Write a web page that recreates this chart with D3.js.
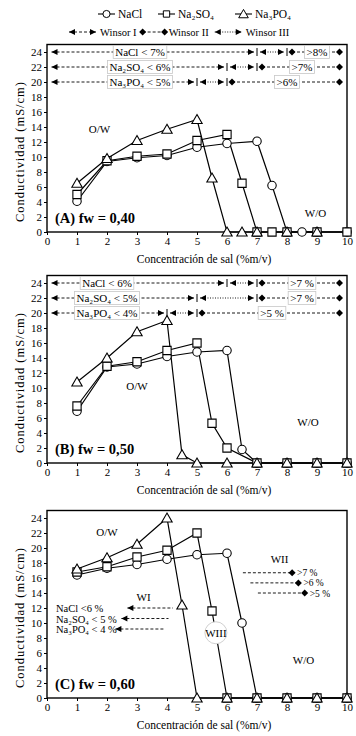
<!DOCTYPE html>
<html>
<head>
<meta charset="utf-8">
<script src="https://cdn.jsdelivr.net/npm/d3@7"></script>
<style>
  body { margin: 0; background: #fff; }
  svg { display: block; font-family: "Liberation Serif", "DejaVu Serif", serif; }
</style>
</head>
<body>
<svg id="chart" width="356" height="736"></svg>
<script>
// ---- data ----
const xTicks = [0, 1, 2, 3, 4, 5, 6, 7, 8, 9, 10];
const yTicks = [0, 2, 4, 6, 8, 10, 12, 14, 16, 18, 20, 22, 24];
const salts = ["NaCl", "Na₂SO₄", "Na₃PO₄"];

const a_NaCl   = [[1,4.1],[2,9.4],[3,9.9],[4,10.2],[5,11.3],[6,11.8],[7,12.1],[7.5,6.2],[8,0],[8.5,0],[9,0],[10,0]];
const a_Na2SO4 = [[1,5.0],[2,9.5],[3,10.1],[4,10.4],[5,12.2],[6,13.0],[6.5,6.5],[7,0],[7.5,0],[8,0],[9,0],[10,0]];
const a_Na3PO4 = [[1,6.5],[2,9.8],[3,12.2],[4,13.7],[5,15.0],[5.5,7.2],[6,0],[6.5,0],[7,0],[8,0],[9,0]];

const b_NaCl   = [[1,6.9],[2,12.8],[3,13.2],[4,14.2],[5,14.8],[6,15.0],[6.5,1.8],[7,0],[8,0],[9,0],[10,0]];
const b_Na2SO4 = [[1,7.6],[2,12.9],[3,13.5],[4,15.0],[5,16.0],[5.5,5.3],[6,2.0],[7,0],[8,0],[9,0],[10,0]];
const b_Na3PO4 = [[1,10.8],[2,14.0],[3,17.5],[4,19.0],[4.5,1.1],[5,0],[6,0],[7,0],[8,0],[9,0],[10,0]];

const c_NaCl   = [[1,16.4],[2,17.3],[3,17.8],[4,18.5],[5,19.1],[6,19.3],[6.5,10.0],[7,0],[8,0],[9,0],[10,0]];
const c_Na2SO4 = [[1,16.8],[2,17.5],[3,18.8],[4,19.7],[5,22.0],[5.5,11.6],[6,0],[7,0],[8,0],[9,0],[10,0]];
const c_Na3PO4 = [[1,17.2],[2,18.7],[3,20.5],[4,24.0],[4.5,12.4],[5,0],[6,0],[7,0],[8,0],[9,0],[10,0]];

// Winsor phase limits (% salt): [label, WI/WIII limit, WIII/WII limit, WII label]
const a_phases = [["NaCl < 7%", 7, 8, ">8%"], ["Na₂SO₄ < 6%", 6, 7, ">7%"], ["Na₃PO₄ < 5%", 5, 6, ">6%"]];
const b_phases = [["NaCl   < 6%", 6, 7, ">7 %"], ["Na₂SO₄ < 5%", 5, 7, ">7 %"], ["Na₃PO₄ < 4%", 4, 5, ">5 %"]];
const c_wi  = [["NaCl   <6 %", 6], ["Na₂SO₄ < 5 %", 5], ["Na₃PO₄ < 4 %", 4]];
const c_wii = [">7 %", ">6 %", ">5 %"];
const winsorNames = ["Winsor I", "Winsor II", "Winsor III"];

// ---- layout ----
const svg = d3.select("#chart");
const left = 47, right = 347;
const panels = [
    {title: "(A) fw = 0,40", y0: 232, series: [a_NaCl, a_Na2SO4, a_Na3PO4], phases: a_phases, labelX: 3.1, ow: [1.75, 13.2], wo: [8.95, 2.0]},
    {title: "(B) fw = 0,50", y0: 463, series: [b_NaCl, b_Na2SO4, b_Na3PO4], phases: b_phases, labelX: 2.0, ow: [3.0, 9.7], wo: [8.7, 5.0]},
    {title: "(C) fw = 0,60", y0: 698, series: [c_NaCl, c_Na2SO4, c_Na3PO4], phases: null, ow: [2.0, 21.6], wo: [8.55, 4.6]}
];
const symbols = [d3.symbol(d3.symbolCircle, 56), d3.symbol(d3.symbolSquare, 68), d3.symbol(d3.symbolTriangle, 46)];

function arrowHead(g, x, y, dir) {
    // dir = -1 points left, 1 points right
    g.append("path")
        .attr("d", `M${x},${y} L${x - dir * 6},${y - 3} L${x - dir * 6},${y + 3} Z`)
        .attr("fill", "#000");
}
function diamond(g, x, y) {
    g.append("path")
        .attr("d", `M${x},${y - 3.5} L${x + 3.5},${y} L${x},${y + 3.5} L${x - 3.5},${y} Z`)
        .attr("fill", "#000");
}
function hline(g, x1, x2, y, dash) {
    return g.append("line").attr("x1", x1).attr("x2", x2).attr("y1", y).attr("y2", y)
        .attr("stroke", "#000").attr("stroke-width", 0.9).attr("stroke-dasharray", dash);
}
function boxedText(g, x, y, txt) {
    const t = g.append("text").attr("x", x).attr("y", y + 4)
        .attr("text-anchor", "middle").attr("font-size", 11).text(txt);
    const bb = t.node().getBBox();
    g.insert("rect", () => t.node())
        .attr("x", bb.x - 2).attr("y", bb.y - 0.5)
        .attr("width", bb.width + 4).attr("height", bb.height + 1)
        .attr("fill", "#fff").attr("stroke", "#c8c8c8").attr("stroke-width", 0.8);
}

panels.forEach(p => {
    const x = d3.scaleLinear().domain([0, 10]).range([left, right]);
    const y = d3.scaleLinear().domain([0, 25]).range([p.y0, p.y0 - 25 * 7.5]);
    const g = svg.append("g");

    // frame
    g.append("rect")
        .attr("x", left).attr("y", y(25))
        .attr("width", right - left).attr("height", p.y0 - y(25))
        .attr("fill", "none").attr("stroke", "#000").attr("stroke-width", 1.4);

    // axes
    g.append("g").attr("transform", `translate(${left},0)`)
        .call(d3.axisLeft(y).tickValues(yTicks).tickSize(3).tickPadding(2))
        .call(a => a.select(".domain").remove())
        .call(a => a.selectAll("text").attr("font-size", 11).attr("font-family", "Liberation Serif"));
    g.append("g").attr("transform", `translate(0,${p.y0})`)
        .call(d3.axisBottom(x).tickValues(xTicks).tickSize(3).tickPadding(2))
        .call(a => a.select(".domain").remove())
        .call(a => a.selectAll("text").attr("font-size", 11).attr("font-family", "Liberation Serif"));

    g.append("text")
        .attr("x", 204).attr("y", p.y0 + 31)
        .attr("text-anchor", "middle").attr("font-size", 11.5)
        .text("Concentración de sal (%m/v)");
    g.append("text")
        .attr("transform", `translate(24,${p.y0 - 80}) rotate(-90)`)
        .attr("text-anchor", "middle").attr("font-size", 12.5)
        .attr("textLength", 140)
        .text("Conductividad (mS/cm)");

    // series
    const line = d3.line().x(d => x(d[0])).y(d => y(d[1]));
    p.series.forEach(s => {
        g.append("path").datum(s)
            .attr("d", line).attr("fill", "none")
            .attr("stroke", "#000").attr("stroke-width", 1.2);
    });
    p.series.forEach((s, i) => {
        g.selectAll(null).data(s).join("path")
            .attr("transform", d => `translate(${x(d[0])},${y(d[1]) + (i === 2 ? 1 : 0)})`)
            .attr("d", symbols[i])
            .attr("fill", "#fff").attr("stroke", "#000").attr("stroke-width", 1.1);
    });

    // region labels
    g.append("text").attr("x", x(p.ow[0])).attr("y", y(p.ow[1]))
        .attr("text-anchor", "middle").attr("font-size", 11).text("O/W");
    g.append("text").attr("x", x(p.wo[0])).attr("y", y(p.wo[1]))
        .attr("text-anchor", "middle").attr("font-size", 11).text("W/O");
    g.append("text").attr("x", left + 8).attr("y", p.y0 - 9)
        .attr("font-size", 14.5).attr("font-weight", "bold").text(p.title);

    // Winsor phase rows
    if (p.phases) {
        p.phases.forEach((ph, i) => {
            const yy = y(24 - 2 * i);
            const [lab, b1, b2, over] = ph;
            const ax = x(0.15), bx = x(b1), cx = x(b2), ex = x(9.75);
            // Winsor I
            hline(g, ax, bx - 3, yy, "3,2");
            arrowHead(g, ax, yy, -1);
            arrowHead(g, bx - 3, yy, 1);
            // Winsor III
            hline(g, bx + 3, cx - 3, yy, "1,1.5");
            arrowHead(g, bx + 3, yy, -1);
            arrowHead(g, cx - 3, yy, 1);
            [bx, cx].forEach(bxv => g.append("line")
                .attr("x1", bxv).attr("x2", bxv).attr("y1", yy - 4).attr("y2", yy + 4)
                .attr("stroke", "#000").attr("stroke-width", 1));
            // Winsor II
            hline(g, cx + 5, ex, yy, "3,2");
            diamond(g, cx + 5, yy);
            diamond(g, ex, yy);
            boxedText(g, x(p.labelX), yy, lab);
            boxedText(g, x((b2 + 10) / 2), yy, over);
        });
    } else {
        // panel C annotations
        g.append("text").attr("x", x(7.75)).attr("y", y(18.0)).attr("text-anchor", "middle")
            .attr("font-size", 11).text("WII");
        c_wii.forEach((t, i) => {
            const yy = y(16.7 - 1.35 * i);
            const x1 = x(6.53 + 0.25 * i), x2 = x(8.17 + 0.21 * i);
            hline(g, x1, x2, yy, "3,2");
            diamond(g, x2, yy);
            g.append("text").attr("x", x2 + 5).attr("y", yy + 3.5).attr("font-size", 9.5).text(t);
        });
        g.append("text").attr("x", x(3.22)).attr("y", y(13.0)).attr("text-anchor", "middle")
            .attr("font-size", 11).text("WI");
        c_wi.forEach((d, i) => {
            const yy = y(12.0 - 1.4 * i);
            const x1 = x(2.68 - 0.2 * i), x2 = x(4.2 - 0.15 * i);
            g.append("text").attr("x", left + 9).attr("y", yy + 4).attr("font-size", 10.5).text(d[0]);
            hline(g, x1, x2, yy, "3,2");
            arrowHead(g, x1, yy, -1);
        });
        g.append("circle").attr("cx", x(5.63)).attr("cy", y(8.7)).attr("r", 11)
            .attr("fill", "#fff").attr("stroke", "#d0d0d0").attr("stroke-width", 1);
        g.append("text").attr("x", x(5.63)).attr("y", y(8.7) + 4).attr("text-anchor", "middle")
            .attr("font-size", 11).text("WIII");
    }
});

// ---- legend ----
const leg1 = svg.append("g");
const legX = [98, 158, 235];
salts.forEach((l, i) => {
    leg1.append("line").attr("x1", legX[i]).attr("x2", legX[i] + 17).attr("y1", 14).attr("y2", 14)
        .attr("stroke", "#000").attr("stroke-width", 1.1);
    leg1.append("path").attr("transform", `translate(${legX[i] + 8.5},${14 + (i === 2 ? 1 : 0)})`)
        .attr("d", d3.symbol([d3.symbolCircle, d3.symbolSquare, d3.symbolTriangle][i], 40)())
        .attr("fill", "#fff").attr("stroke", "#000").attr("stroke-width", 1);
    leg1.append("text").attr("x", legX[i] + 20).attr("y", 18).attr("font-size", 11.5).text(l);
});

// second legend row laid out left to right
const leg2 = svg.append("g");
const ly = 32;
let cur = 66;
winsorNames.forEach((name, i) => {
    const w = i === 1 ? 22 : 27;
    const x1 = cur + 3, x2 = cur + 3 + w;
    hline(leg2, x1, x2, ly, i === 2 ? "1,1.5" : "3,2");
    if (i === 1) { diamond(leg2, x1, ly); diamond(leg2, x2, ly); }
    else { arrowHead(leg2, x1, ly, -1); arrowHead(leg2, x2, ly, 1); }
    const t = leg2.append("text").attr("x", x2 + 4).attr("y", ly + 4)
        .attr("font-size", 10.5).text(name);
    cur = x2 + 4 + t.node().getComputedTextLength() + 3;
});
</script>
</body>
</html>
